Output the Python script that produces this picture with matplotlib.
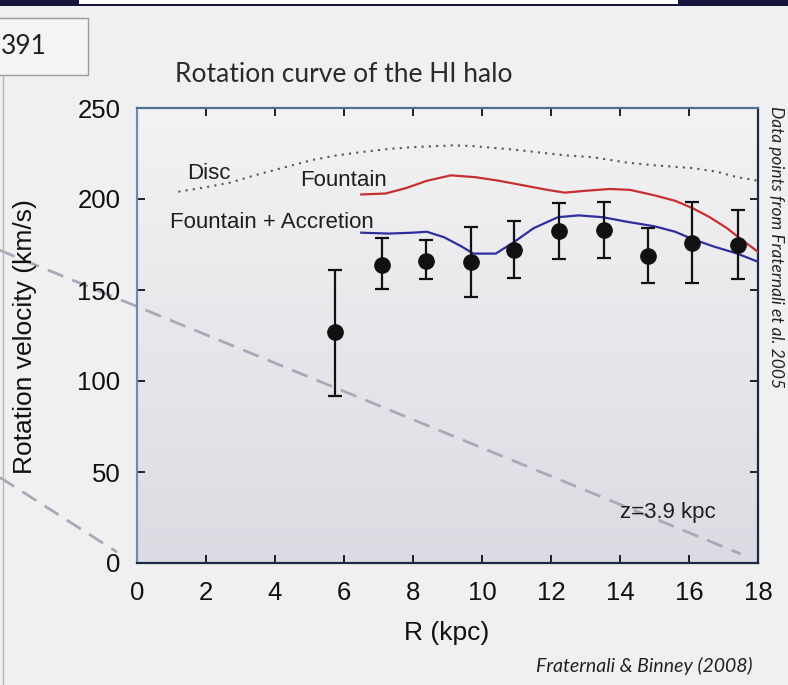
import numpy as np
import matplotlib
matplotlib.use("Agg")
import matplotlib.pyplot as plt
from matplotlib.patches import Rectangle
from matplotlib.lines import Line2D
from matplotlib.colors import LinearSegmentedColormap

# data points (Fraternali et al. 2005)
r_obs = [5.74, 7.1, 8.38, 9.68, 10.93, 12.23, 13.54, 14.8, 16.1, 17.42]
v_obs = [127, 164, 166, 165.5, 172, 182.5, 183, 168.5, 176, 175]
v_lo = [92, 150.5, 156, 146, 156.5, 167, 167.5, 154, 154, 156]
v_hi = [161, 178.5, 177.5, 184.5, 188, 198, 198.5, 184, 198.5, 194]

# model curves
r_disc = [1.2, 2.0, 2.7, 3.6, 4.4, 5.1, 5.8, 6.6, 7.3, 8.0, 8.6, 9.2, 9.8, 10.4, 11.0,
          11.7, 12.4, 13.2, 14.2, 15.0, 16.1, 16.8, 17.4, 18.0]
v_disc = [204, 206.5, 209, 214, 218, 221.5, 224, 226, 227.5, 228.5, 229, 229.5, 229, 228, 227,
          225.5, 224, 223, 220, 218.5, 217, 215, 212, 210]

r_fount = [6.5, 7.2, 7.8, 8.4, 9.1, 9.8, 10.5, 11.2, 11.9, 12.4, 13.0, 13.7, 14.3, 15.0,
           15.6, 16.1, 16.6, 17.1, 17.5, 18.0]
v_fount = [202.5, 203, 206, 210, 213, 212, 210, 207.5, 205, 203.5, 204.5, 205.5, 205, 202,
           199, 195, 190, 184, 178, 171]

r_acc = [6.5, 7.3, 8.0, 8.4, 8.9, 9.4, 9.75, 10.4, 10.9, 11.5, 12.2, 12.8, 13.5, 14.2,
         15.0, 15.6, 16.1, 16.7, 17.4, 18.0]
v_acc = [181.5, 181, 181.5, 182, 179, 174, 170, 170, 176, 184, 190, 191, 190, 187.5,
         185, 182, 178, 174, 170, 165.5]

# z=3.9 kpc curve (runs off the left of the frame) and a ghost line behind it
r_z = [-4.0, 17.5]
v_z = [172, 5]
r_ghost = [-3.97, -0.58]
v_ghost = [47, 6]

xticks = [0, 2, 4, 6, 8, 10, 12, 14, 16, 18]
yticks = [0, 50, 100, 150, 200, 250]

W, H = 788, 685
fig = plt.figure(figsize=(W / 100, H / 100), dpi=100, facecolor="#f0f0f0")

# slide decorations
fig.patches.append(Rectangle((0, 1 - 5.5 / H), 1, 5.5 / H, transform=fig.transFigure,
                             facecolor="#15153d", edgecolor="none"))
fig.patches.append(Rectangle((79 / W, 1 - 4 / H), 599 / W, 4 / H, transform=fig.transFigure,
                             facecolor="white", edgecolor="none"))
fig.patches.append(Rectangle((-2 / W, 1 - 75 / H), 90 / W, 57 / H, transform=fig.transFigure,
                             facecolor="#f4f4f4", edgecolor="#9a9a9a", lw=1.0))
fig.lines.append(Line2D([3 / W, 3 / W], [0, 1 - 75 / H], transform=fig.transFigure,
                        color="#b5b5b5", lw=1.0))
fig.text(1 / W, 1 - 47 / H, "391", fontsize=19, family="Lato", va="center", ha="left",
         color="#222222")
fig.text(175 / W, 1 - 75 / H, "Rotation curve of the HI halo", fontsize=19, family="Lato",
         va="center", ha="left", color="#2a2a2a")

ax = fig.add_axes([137 / W, 1 - 563 / H, 621 / W, 455 / H])
ax.set_facecolor("none")

# background gradient inside the frame
grad = np.linspace(0, 1, 256)[:, None]
cmap = LinearSegmentedColormap.from_list("bg", ["#dcdbe3", "#f3f3f3"])
ax.imshow(grad, extent=(0, 18, 0, 250), origin="lower", aspect="auto", cmap=cmap, zorder=0)

ax.plot(r_ghost, v_ghost, color="#aba7bb", lw=2, dashes=(6, 3.5), clip_on=False, zorder=1)
ax.plot(r_z, v_z, color="#aba7bb", lw=2, dashes=(6, 3.5), clip_on=False, zorder=1)
ax.plot(r_disc, v_disc, color="#555555", lw=1.5, linestyle=(0, (1, 2.5)), zorder=2)
ax.plot(r_fount, v_fount, color="#c83030", lw=1.6, zorder=3)
ax.plot(r_acc, v_acc, color="#2e2e9c", lw=1.6, zorder=3)

yerr = [np.array(v_obs) - np.array(v_lo), np.array(v_hi) - np.array(v_obs)]
ax.errorbar(r_obs, v_obs, yerr=yerr, fmt="o", color="#111111", ms=11, elinewidth=1.6,
            capsize=5, capthick=1.6, zorder=4)

txt = dict(fontsize=16, family="Liberation Sans", color="#1e1e1e", va="center", ha="left")
ax.text(1.45, 214, "Disc", **txt)
ax.text(4.72, 210, "Fountain", **txt)
ax.text(0.96, 187, "Fountain + Accretion", **txt)
ax.text(14.0, 28, "z=3.9 kpc", **txt)

ax.set_xlim(0, 18)
ax.set_ylim(0, 250)
ax.set_xticks(xticks)
ax.set_yticks(yticks)
ax.tick_params(direction="in", length=6, width=1.3, top=True, right=True,
               labeltop=False, labelright=False, labelsize=18.5, colors="#111111")
ax.tick_params(axis="x", pad=13)
ax.tick_params(axis="y", pad=12)
for lab in ax.get_xticklabels() + ax.get_yticklabels():
    lab.set_family("Liberation Sans")
ax.spines["left"].set_color("#6a8db3")
ax.spines["top"].set_color("#4f6f95")
ax.spines["bottom"].set_color("#1c2a48")
ax.spines["right"].set_color("#1c2a48")
for s in ax.spines.values():
    s.set_linewidth(1.6)

fig.text(447 / W, 1 - 633 / H, "R (kpc)", fontsize=19, family="Liberation Sans",
         ha="center", va="center", color="#111111")
fig.text(25 / W, 1 - 337 / H, "Rotation velocity (km/s)", fontsize=19,
         family="Liberation Sans", rotation=90, ha="center", va="center", color="#111111")
fig.text(776 / W, 1 - 247 / H, "Data points from Fraternali et al. 2005", fontsize=12.5,
         family="Lato", style="italic", rotation=-90, ha="center", va="center",
         color="#222222")
fig.text(752 / W, 1 - 666 / H, "Fraternali & Binney (2008)", fontsize=14, family="Lato",
         style="italic", ha="right", va="center", color="#222222")

fig.savefig("out.png", dpi=100, facecolor=fig.get_facecolor())
